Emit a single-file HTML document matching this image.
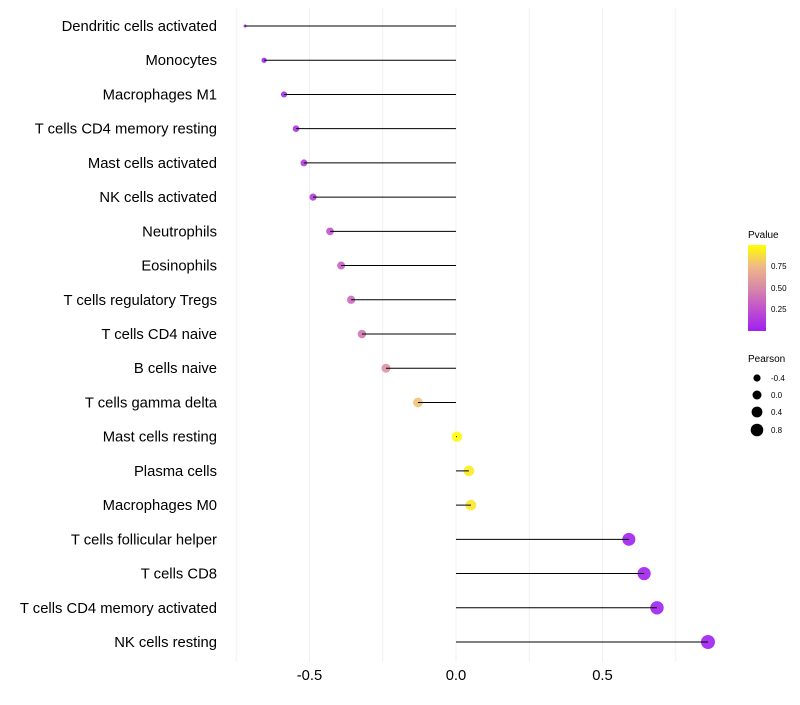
<!DOCTYPE html>
<html><head><meta charset="utf-8"><style>
body{margin:0;background:#fff;}
svg text{font-family:"Liberation Sans",sans-serif;}
</style></head><body>
<svg id="chart" width="800" height="700" xmlns="http://www.w3.org/2000/svg">
<defs><linearGradient id="pg" x1="0" y1="1" x2="0" y2="0">
<stop offset="0" stop-color="#a020f0"/><stop offset="0.25" stop-color="#c050d0"/>
<stop offset="0.5" stop-color="#d888a8"/><stop offset="0.75" stop-color="#f0b888"/>
<stop offset="1" stop-color="#ffff00"/></linearGradient></defs>
<g id="grid"></g><g id="marks"></g><g id="labels"></g>
<g>
<text x="748" y="238" font-size="10">Pvalue</text>
<rect x="748" y="245" width="18" height="86" fill="url(#pg)"/>
<text x="771" y="269" font-size="8">0.75</text>
<text x="771" y="291" font-size="8">0.50</text>
<text x="771" y="312" font-size="8">0.25</text>
</g>
<g>
<text x="748" y="362" font-size="10">Pearson</text>
<circle cx="757" cy="378" r="3.6"/><text x="771" y="381" font-size="8">-0.4</text>
<circle cx="757" cy="395" r="4.5"/><text x="771" y="398" font-size="8">0.0</text>
<circle cx="757" cy="412" r="5.4"/><text x="771" y="415" font-size="8">0.4</text>
<circle cx="757" cy="430" r="6.3"/><text x="771" y="433" font-size="8">0.8</text>
</g>
</svg>
<script>
const categories=["Dendritic cells activated","Monocytes","Macrophages M1","T cells CD4 memory resting","Mast cells activated","NK cells activated","Neutrophils","Eosinophils","T cells regulatory  Tregs ","T cells CD4 naive","B cells naive","T cells gamma delta","Mast cells resting","Plasma cells","Macrophages M0","T cells follicular helper","T cells CD8","T cells CD4 memory activated","NK cells resting"];
const pearson=[-0.72,-0.655,-0.587,-0.546,-0.519,-0.488,-0.43,-0.392,-0.358,-0.321,-0.239,-0.13,0.003,0.044,0.051,0.59,0.642,0.686,0.86];
const pvalues=[0.01,0.03,0.06,0.1,0.13,0.16,0.26,0.32,0.37,0.42,0.55,0.78,0.98,0.93,0.92,0.01,0.01,0.01,0.005];
const xTicks=[-0.5,0,0.5];
const xTickLabels=["-0.5","0.0","0.5"];
const gridVals=[-0.75,-0.5,-0.25,0,0.25,0.5,0.75];
const NS="http://www.w3.org/2000/svg";
const xS=v=>456+v*293;
const yS=i=>26+i*(616/18);
const rS=v=>1.5+5.5*Math.sqrt(Math.max(0,(v+0.72)/1.58));
const stops=[[0,[160,32,240]],[0.25,[192,80,208]],[0.5,[216,136,168]],[0.75,[240,184,136]],[1,[255,255,0]]];
function col(p){for(let k=0;k<stops.length-1;k++){const a=stops[k],b=stops[k+1];if(p<=b[0]){const t=(p-a[0])/(b[0]-a[0]);const c=a[1].map((x,j)=>Math.round(x+(b[1][j]-x)*t));return `rgb(${c})`;}}return "rgb(255,255,0)";}
function mk(tag,attrs,parent){const e=document.createElementNS(NS,tag);for(const k in attrs)e.setAttribute(k,attrs[k]);parent.appendChild(e);return e;}
const grid=document.getElementById('grid'),marks=document.getElementById('marks'),labels=document.getElementById('labels');
gridVals.forEach(v=>{const l=mk('line',{x1:xS(v),x2:xS(v),y1:8,y2:662,stroke:'#f0f0f0','stroke-width':1},grid);

});
categories.forEach((c,i)=>{const y=yS(i);
const t=mk('text',{x:217,y:y+5,'font-size':14.8,'text-anchor':'end',fill:'#000'},labels);t.textContent=c;


const pt=mk('circle',{cx:xS(pearson[i]),cy:y,r:rS(pearson[i]),fill:col(pvalues[i]),'fill-opacity':0.9},marks);


const s=mk('line',{x1:xS(0),x2:xS(pearson[i]),y1:y,y2:y,stroke:'#000','stroke-width':1},marks);

});
xTicks.forEach((v,i)=>{const t=mk('text',{x:xS(v),y:680,'font-size':14.8,'text-anchor':'middle',fill:'#000'},labels);t.textContent=xTickLabels[i];

});
</script>
</body></html>
